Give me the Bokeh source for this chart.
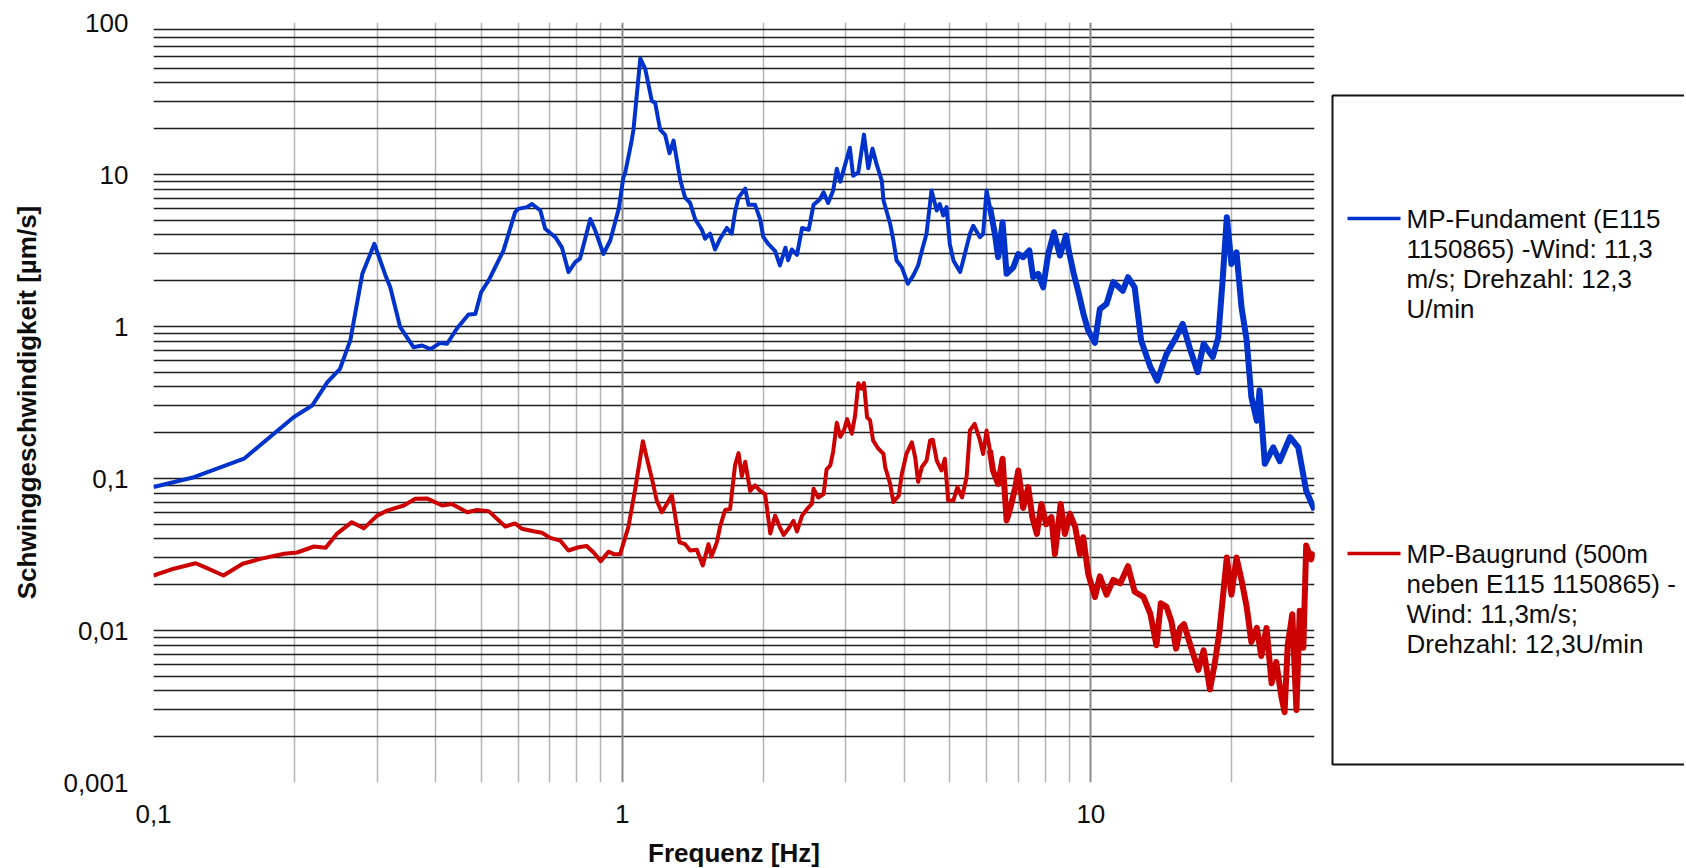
from bokeh.plotting import figure
from bokeh.models import Range1d, FixedTicker, Grid, CustomJSTickFormatter
from bokeh.layouts import row
from bokeh.embed import file_html
from bokeh.resources import INLINE
from bokeh.core.properties import value

# ---------------- data ----------------
freq_fundament = [0.1, 0.122, 0.156, 0.199, 0.218, 0.235, 0.25, 0.263, 0.279, 0.296, 0.312, 0.32,
                  0.336, 0.359, 0.374, 0.39, 0.409, 0.423, 0.444, 0.47, 0.486, 0.5, 0.519, 0.558,
                  0.591, 0.6, 0.626, 0.642, 0.669, 0.685, 0.72, 0.744, 0.768, 0.794, 0.813, 0.855,
                  0.876, 0.912, 0.943, 0.983, 1.006, 1.015, 1.045, 1.057, 1.093, 1.12, 1.157, 1.176,
                  1.205, 1.235, 1.262, 1.287, 1.33, 1.362, 1.396, 1.431, 1.479, 1.503, 1.54, 1.578,
                  1.618, 1.672, 1.713, 1.741, 1.771, 1.83, 1.86, 1.921, 1.969, 2.0, 2.05, 2.12,
                  2.17, 2.23, 2.26, 2.3, 2.36, 2.42, 2.5, 2.56, 2.64, 2.69, 2.75, 2.82, 2.87, 2.92,
                  2.965, 3.06, 3.11, 3.19, 3.28, 3.35, 3.42, 3.49, 3.58, 3.61, 3.73, 3.79, 3.85,
                  3.95, 4.07, 4.18, 4.28, 4.36, 4.46, 4.57, 4.69, 4.76, 4.84, 4.92, 5.0, 5.09, 5.26,
                  5.34, 5.52, 5.61, 5.8, 5.89, 5.99, 6.09, 6.24, 6.34, 6.48, 6.61, 6.83, 7.0, 7.17,
                  7.39, 7.53, 7.72, 7.91, 8.11, 8.34, 8.59, 8.85, 9.0, 9.2, 9.4, 9.65, 9.87, 10.2,
                  10.45, 10.8, 11.16, 11.7, 12.0, 12.4, 12.8, 13.4, 13.85, 14.5, 15.2, 15.7, 16.3,
                  16.9, 17.4, 18.2, 18.7, 19.1, 19.5, 19.95, 20.45, 20.96, 21.5, 22.0, 22.6, 22.9,
                  23.5, 24.5, 25.3, 26.6, 27.7, 28.8, 30.0]
vel_fundament = [0.088, 0.102, 0.135, 0.253, 0.302, 0.43, 0.527, 0.81, 2.22, 3.5, 2.2, 1.81,
                 0.99, 0.73, 0.75, 0.71, 0.78, 0.77, 0.97, 1.2, 1.21, 1.68, 2.01, 3.16,
                 5.65, 5.94, 6.1, 6.4, 5.8, 4.4, 3.87, 3.3, 2.28, 2.65, 2.8, 5.1,
                 4.28, 3.0, 3.68, 5.94, 9.6, 10.3, 16.0, 19.7, 58.0, 49.4, 30.4, 29.6,
                 19.7, 18.2, 13.8, 16.7, 9.2, 7.05, 6.5, 5.09, 4.33, 3.78, 4.08, 3.21,
                 3.78, 4.45, 4.08, 5.67, 7.05, 8.07, 6.32, 6.32, 5.09, 3.89, 3.49, 3.13,
                 2.52, 3.3, 2.73, 3.21, 2.96, 4.45, 4.33, 6.32, 6.86, 7.64, 6.5, 7.85, 10.9, 8.98,
                 10.6, 15.0, 9.8, 10.3, 18.3, 11.0, 14.8, 11.7, 9.1, 6.75, 4.74, 3.68, 2.72,
                 2.45, 1.91, 2.17, 2.52, 3.16, 4.07, 7.85, 5.8, 6.4, 5.37, 6.1, 3.5, 2.72, 2.28,
                 2.72, 4.07, 4.6, 3.87, 4.07, 7.85, 6.1, 4.07, 2.86, 4.85, 2.22, 2.45, 3.0, 2.86,
                 3.16, 2.11, 2.22, 1.81, 3.0, 4.17, 2.93, 3.97, 3.0, 2.2, 1.7, 1.2, 0.94, 0.78,
                 1.3, 1.41, 1.96, 1.72, 2.11, 1.81, 0.81, 0.54, 0.44, 0.66, 0.85, 1.04, 0.7,
                 0.5, 0.77, 0.63, 0.85, 2.01, 5.24, 2.58, 3.08, 1.34, 0.81, 0.343, 0.24, 0.38,
                 0.125, 0.16, 0.13, 0.187, 0.16, 0.083, 0.062]

freq_baugrund = [0.1, 0.1105, 0.123, 0.129, 0.141, 0.155, 0.169, 0.19, 0.2025, 0.22, 0.233, 0.246,
                 0.265, 0.281, 0.3, 0.315, 0.342, 0.362, 0.383, 0.413, 0.433, 0.467, 0.49, 0.519,
                 0.563, 0.591, 0.611, 0.647, 0.674, 0.702, 0.738, 0.768, 0.807, 0.84, 0.869, 0.9,
                 0.935, 0.96, 0.99, 1.031, 1.066, 1.107, 1.129, 1.157, 1.186, 1.215, 1.245, 1.276,
                 1.297, 1.325, 1.362, 1.396, 1.443, 1.486, 1.528, 1.55, 1.592, 1.618, 1.658, 1.699,
                 1.741, 1.771, 1.8, 1.83, 1.875, 1.921, 1.969, 2.018, 2.07, 2.12, 2.165, 2.21,
                 2.26, 2.32, 2.36, 2.42, 2.48, 2.54, 2.56, 2.62, 2.69, 2.73, 2.78, 2.82, 2.87,
                 2.92, 2.975, 3.02, 3.09, 3.14, 3.19, 3.24, 3.28, 3.33, 3.38, 3.43, 3.52, 3.61,
                 3.64, 3.73, 3.79, 3.89, 3.95, 4.04, 4.15, 4.22, 4.28, 4.36, 4.46, 4.54, 4.6,
                 4.69, 4.8, 4.88, 4.96, 5.09, 5.19, 5.31, 5.43, 5.52, 5.65, 5.8, 5.89, 5.99, 6.09,
                 6.18, 6.34, 6.48, 6.61, 6.71, 6.9, 7.0, 7.17, 7.35, 7.5, 7.67, 7.84, 8.03, 8.24,
                 8.38, 8.62, 8.8, 9.02, 9.26, 9.48, 9.63, 9.87, 10.2, 10.45, 10.8, 11.16, 11.55,
                 12.0, 12.4, 12.95, 13.4, 13.8, 14.1, 14.5, 14.85, 15.2, 15.5, 15.8, 16.3, 16.95,
                 17.4, 17.95, 18.4, 18.8, 19.15, 19.5, 19.95, 20.45, 20.96, 21.5, 22.0, 22.6,
                 23.1, 23.7, 24.3, 24.85, 25.5, 25.9, 26.3, 26.9, 27.45, 27.9, 28.4, 28.8, 29.5,
                 30.0]
vel_baugrund = [0.023, 0.0255, 0.0277, 0.026, 0.023, 0.0275, 0.0296, 0.032, 0.0326, 0.0357, 0.035, 0.0432,
                0.0516, 0.047, 0.057, 0.0615, 0.0664, 0.0735, 0.074, 0.0664, 0.068, 0.06, 0.062, 0.061,
                0.0483, 0.0506, 0.0467, 0.045, 0.044, 0.0407, 0.039, 0.0336, 0.0353, 0.036, 0.0326, 0.0286,
                0.033, 0.0318, 0.0318, 0.048, 0.085, 0.176, 0.136, 0.1, 0.071, 0.06, 0.068, 0.078,
                0.057, 0.038, 0.037, 0.0336, 0.034, 0.0268, 0.037, 0.0306, 0.038, 0.0485, 0.062, 0.063,
                0.122, 0.147, 0.1035, 0.129, 0.083, 0.09, 0.083, 0.079, 0.0435, 0.057, 0.0485, 0.0425,
                0.0465, 0.0526, 0.0448, 0.057, 0.063, 0.068, 0.0857, 0.0749, 0.079, 0.115, 0.122, 0.151, 0.233,
                0.188, 0.209, 0.246, 0.197, 0.26, 0.423, 0.39, 0.425, 0.253, 0.241, 0.178, 0.157, 0.145,
                0.119, 0.092, 0.07, 0.077, 0.107, 0.145, 0.173, 0.137, 0.095, 0.119, 0.131, 0.178, 0.18,
                0.131, 0.113, 0.135, 0.0716, 0.0716, 0.0877, 0.075, 0.102, 0.207, 0.229, 0.178, 0.145, 0.207, 0.153,
                0.113, 0.092, 0.135, 0.053, 0.0615, 0.0877, 0.113, 0.064, 0.0877, 0.0557, 0.0432, 0.068, 0.05, 0.0557,
                0.0318, 0.068, 0.0432, 0.0586, 0.0478, 0.0318, 0.0411, 0.0236, 0.0166, 0.0227, 0.0172, 0.0215, 0.0204,
                0.0265, 0.018, 0.0166, 0.0128, 0.008, 0.0151, 0.0143, 0.0115, 0.0076, 0.0104, 0.011, 0.008, 0.0055,
                0.0074, 0.0041, 0.0062, 0.0098, 0.0172, 0.0302, 0.0172, 0.0302, 0.0215, 0.0143, 0.0084, 0.0104,
                0.0068, 0.0104, 0.0045, 0.0062, 0.00366, 0.0029, 0.008, 0.0128, 0.003, 0.0135, 0.0077, 0.0362, 0.0294,
                0.0327]

legend_lines_fundament = ["MP-Fundament (E115", "1150865) -Wind: 11,3", "m/s; Drehzahl: 12,3", "U/min"]
legend_lines_baugrund = ["MP-Baugrund (500m", "neben E115 1150865) -", "Wind: 11,3m/s;", "Drehzahl: 12,3U/min"]

y_tick_values = [0.001, 0.01, 0.1, 1, 10, 100]
x_tick_values = [0.1, 1, 10]
y_grid_values = [0.001, 0.002, 0.003, 0.004, 0.005, 0.006, 0.007, 0.008, 0.009,
                 0.01, 0.02, 0.03, 0.04, 0.05, 0.06, 0.07, 0.08, 0.09,
                 0.1, 0.2, 0.3, 0.4, 0.5, 0.6, 0.7, 0.8, 0.9,
                 1, 2, 3, 4, 5, 6, 7, 8, 9,
                 10, 20, 30, 40, 50, 60, 70, 80, 90, 100]
x_minor_grid_values = [0.2, 0.3, 0.4, 0.5, 0.6, 0.7, 0.8, 0.9,
                       2, 3, 4, 5, 6, 7, 8, 9, 20, 30]
x_decade_grid_values = [0.1, 1, 10]

x_title = "Frequenz [Hz]"
y_title = "Schwinggeschwindigkeit [µm/s]"

BLUE = "#0033CC"
RED = "#CC0000"
FONT = "Liberation Sans"
TXT = "#0d0d0d"

# layout constants (pixels)
TOP, FRAME_H, BOTTOM = 22, 760, 84
LEFT, FRAME_W, RIGHT = 153, 1161, 10
LEG_W = 360
NOISY_FROM = 6.0  # above this frequency the measured traces form a dense band

# ---------------- main chart ----------------
p = figure(frame_width=FRAME_W, frame_height=FRAME_H,
           min_border_left=LEFT, min_border_right=RIGHT, min_border_top=TOP, min_border_bottom=BOTTOM,
           x_axis_type="log", y_axis_type="log",
           x_range=Range1d(0.1, 30), y_range=Range1d(0.001, 100),
           output_backend="svg", toolbar_location=None)
p.outline_line_color = None
p.background_fill_color = "white"
p.border_fill_color = "white"
p.xgrid.visible = False
p.ygrid.visible = False

g_xminor = Grid(dimension=0, ticker=FixedTicker(ticks=x_minor_grid_values),
                grid_line_color="#b5b5b5", grid_line_width=1.5)
g_y = Grid(dimension=1, ticker=FixedTicker(ticks=y_grid_values),
           grid_line_color="#1e1e1e", grid_line_width=1.5)
g_xdec = Grid(dimension=0, ticker=FixedTicker(ticks=x_decade_grid_values),
              grid_line_color="#8a8a8a", grid_line_width=2)
g_bottom = Grid(dimension=1, ticker=FixedTicker(ticks=[0.001]),
                grid_line_color="#111111", grid_line_width=2.5)
for g in (g_xminor, g_y, g_xdec, g_bottom):
    p.add_layout(g)

fmt = CustomJSTickFormatter(code="return tick.toString().replace('.', ',');")
for ax, ticks in ((p.xaxis, x_tick_values), (p.yaxis, y_tick_values)):
    ax.ticker = FixedTicker(ticks=ticks, minor_ticks=[])
    ax.formatter = fmt
    ax.axis_line_color = None
    ax.major_tick_line_color = None
    ax.minor_tick_line_color = None
    ax.major_tick_out = 0
    ax.major_tick_in = 0
    ax.major_label_text_font = FONT
    ax.major_label_text_font_size = "26px"
    ax.major_label_text_color = TXT
    ax.axis_label_text_font = FONT
    ax.axis_label_text_font_size = "26px"
    ax.axis_label_text_font_style = "bold"
    ax.axis_label_text_color = TXT

p.xaxis.major_label_standoff = 22
p.xaxis.axis_label = x_title
p.xaxis.axis_label_standoff = 12
p.yaxis.major_label_standoff = 25
p.yaxis.axis_label = y_title
p.yaxis.axis_label_standoff = 18

for freqs, vals, color in ((freq_fundament, vel_fundament, BLUE), (freq_baugrund, vel_baugrund, RED)):
    p.line(freqs, vals, line_color=color, line_width=4, line_join="round")
    k = next(i for i, f in enumerate(freqs) if f >= NOISY_FROM)
    p.line(freqs[k:], vals[k:], line_color=color, line_width=6, line_join="round")

# ---------------- legend panel (same vertical frame as the chart; y = page pixels) ----------------
q = figure(frame_width=LEG_W, frame_height=FRAME_H,
           min_border_left=0, min_border_right=0, min_border_top=TOP, min_border_bottom=BOTTOM,
           x_range=Range1d(LEFT + FRAME_W + RIGHT, LEFT + FRAME_W + RIGHT + LEG_W),
           y_range=Range1d(TOP + FRAME_H, TOP),
           x_axis_location=None, y_axis_location=None,
           output_backend="svg", toolbar_location=None)
q.grid.visible = False
q.outline_line_color = None
q.border_fill_color = "white"
q.background_fill_color = "white"

q.quad(left=[1332], right=[1760], top=[95], bottom=[764], fill_color=None,
       line_color="#111111", line_width=2)

legend_spec = [(BLUE, legend_lines_fundament, 218), (RED, legend_lines_baugrund, 553)]
for color, lines, y0 in legend_spec:
    q.segment(x0=[1347], x1=[1400], y0=[y0], y1=[y0], line_color=color, line_width=3.5)
    q.text(x=[1406] * len(lines), y=[y0 + 30 * i for i in range(len(lines))], text=lines,
           text_font=value(FONT), text_font_size="26px", text_color=TXT,
           text_baseline="middle", text_align="left")

layout = row(p, q, spacing=0)
open("out.html", "w").write(file_html(layout, INLINE))
